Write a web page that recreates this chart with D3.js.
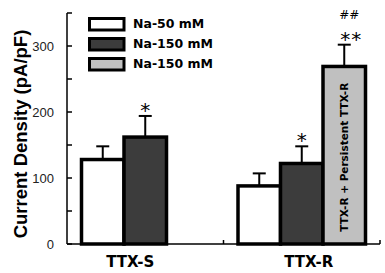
<!DOCTYPE html>
<html><head><meta charset="utf-8">
<script src="https://cdn.jsdelivr.net/npm/d3@7"></script>
<style>body{margin:0;background:#fff}svg{display:block}</style>
</head><body>
<svg id="chart" width="385" height="273"></svg>
<script>
const categories = ["TTX-S", "TTX-R"];
const seriesNames = ["Na-50 mM", "Na-150 mM", "Na-150 mM"];
const na50 = [128, 88];
const na50Err = [20, 19];
const na150 = [162, 122];
const na150Err = [32, 26];
const persistent = [null, 269];
const persistentErr = [null, 33];
const stars = ["*", "*"];
const persistentMarks = ["**", "##"];
const barText = "TTX-R + Persistent TTX-R";
const yTicks = [0, 50, 100, 150, 200, 250, 300, 350];
const yLabels = [0, 100, 200, 300];
const yTitle = "Current Density (pA/pF)";

const colors = ["#ffffff", "#3c3c3c", "#c0c0c0"];
const svg = d3.select("#chart");
const y = d3.scaleLinear().domain([0, 350]).range([244, 13]);
const x0 = d3.scaleBand().domain(categories).range([67, 380]);
const bw = x0.bandwidth();
const x1 = d3.scaleBand().domain([0, 1, 2]).range([14.5, bw - 14.5]);

const rows = [];
categories.forEach((c, i) => {
  [[na50, na50Err], [na150, na150Err], [persistent, persistentErr]].forEach((s, k) => {
    if (s[0][i] != null) rows.push({c, k, v: s[0][i], e: s[1][i]});
  });
});

// error bars
const eg = svg.append("g").attr("stroke", "#000").attr("stroke-width", 2);
rows.forEach(d => {
  const cx = x0(d.c) + x1(d.k) + x1.bandwidth() / 2;
  eg.append("line").attr("x1", cx).attr("x2", cx).attr("y1", y(d.v)).attr("y2", y(d.v + d.e));
  eg.append("line").attr("x1", cx - 6.5).attr("x2", cx + 6.5).attr("y1", y(d.v + d.e)).attr("y2", y(d.v + d.e));
});

// bars
svg.append("g").selectAll("rect").data(rows).join("rect")
  .attr("x", d => x0(d.c) + x1(d.k))
  .attr("width", x1.bandwidth())
  .attr("y", d => y(d.v))
  .attr("height", d => y(0) - y(d.v))
  .attr("fill", d => colors[d.k])
  .attr("stroke", "#000").attr("stroke-width", 3.5);

// rotated bar text
const pr = rows.find(d => d.k === 2);
const pcx = x0(pr.c) + x1(2) + x1.bandwidth() / 2;
svg.append("text")
  .attr("transform", `translate(${pcx},${(y(pr.v) + y(0)) / 2 + 2}) rotate(-90)`)
  .attr("text-anchor", "middle").attr("dominant-baseline", "central")
  .attr("font-family", "DejaVu Sans").attr("font-weight", "bold").attr("font-size", 10.5)
  .text(barText);

// axes
const ax = svg.append("g").attr("stroke", "#000").attr("stroke-width", 1.5);
ax.append("line").attr("x1", 67).attr("x2", 67).attr("y1", y(350)).attr("y2", y(0));
ax.append("line").attr("x1", 67).attr("x2", 380).attr("y1", y(0)).attr("y2", y(0));
yTicks.forEach(t => ax.append("line").attr("x1", 67).attr("x2", 72).attr("y1", y(t)).attr("y2", y(t)));
[x0("TTX-R"), 380].forEach(t => ax.append("line").attr("x1", t).attr("x2", t).attr("y1", y(0)).attr("y2", y(0) - 4));

svg.append("g").selectAll("text").data(yLabels).join("text")
  .attr("x", 54).attr("y", d => y(d)).attr("dy", "0.35em")
  .attr("text-anchor", "end").attr("font-family", "Liberation Sans").attr("font-size", 13)
  .attr("fill", "#222").text(d => d);

svg.append("text")
  .attr("transform", `translate(20,134) rotate(-90)`)
  .attr("text-anchor", "middle").attr("dominant-baseline", "central")
  .attr("font-family", "Liberation Sans").attr("font-weight", "bold").attr("font-size", 18.5)
  .text(yTitle);

// category labels
const labOff = [-15, 7];
svg.append("g").selectAll("text").data(categories).join("text")
  .attr("x", (d, i) => x0(d) + bw / 2 + labOff[i]).attr("y", 262).attr("dy", "0.35em")
  .attr("text-anchor", "middle").attr("font-family", "DejaVu Sans").attr("font-weight", "bold").attr("font-size", 15)
  .text(d => d);

// significance marks
rows.filter(d => d.k === 1).forEach((d, i) => {
  const cx = x0(d.c) + x1(1) + x1.bandwidth() / 2;
  svg.append("text").attr("x", cx).attr("y", y(d.v + d.e) - 3)
    .attr("text-anchor", "middle").attr("font-family", "DejaVu Sans").attr("font-size", 20)
    .attr("dy", "0.7em").attr("transform", `translate(0,-10)`)
    .text(stars[i]);
});
svg.append("text").attr("x", pcx + 7).attr("y", y(pr.v + pr.e) - 13)
  .attr("dy", "0.7em").attr("text-anchor", "middle").attr("font-family", "DejaVu Sans").attr("font-size", 20)
  .attr("letter-spacing", 1).text(persistentMarks[0]);
svg.append("text").attr("x", pcx + 5).attr("y", 15)
  .attr("dy", "0.35em").attr("text-anchor", "middle").attr("font-family", "DejaVu Sans").attr("font-size", 12)
  .text(persistentMarks[1]);

// legend
const lg = svg.append("g");
seriesNames.forEach((s, i) => {
  lg.append("rect").attr("x", 89.5).attr("y", 18.5 + i * 20).attr("width", 34.5).attr("height", 11.5)
    .attr("fill", colors[i]).attr("stroke", "#000").attr("stroke-width", 3);
  lg.append("text").attr("x", 133).attr("y", 24 + i * 20).attr("dy", "0.35em")
    .attr("font-family", "DejaVu Sans").attr("font-weight", "bold").attr("font-size", 12.5).text(s);
});
</script>
</body></html>
